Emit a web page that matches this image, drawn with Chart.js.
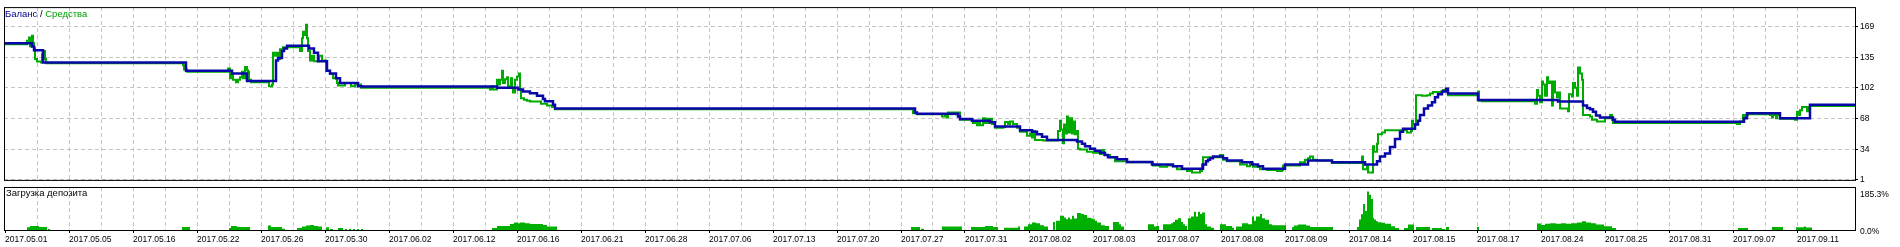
<!DOCTYPE html>
<html>
<head>
<meta charset="utf-8">
<script src="https://cdn.jsdelivr.net/npm/chart.js@4.4.1/dist/chart.umd.min.js"></script>
<style>
  html, body { margin: 0; padding: 0; background: #ffffff; }
  #wrap { position: relative; width: 1900px; height: 247px; overflow: hidden; background: #fff; }
  canvas { position: absolute; left: 0; }
</style>
</head>
<body>
<div id="wrap">
  <canvas id="mainChart" width="1900" height="187" style="top:0"></canvas>
  <canvas id="loadChart" width="1900" height="61" style="top:186px"></canvas>
</div>
<script>
// ---------- DATA ----------
const dateLabels = ['2017.05.01','2017.05.05','2017.05.16','2017.05.22','2017.05.26','2017.05.30','2017.06.02','2017.06.12','2017.06.16','2017.06.21','2017.06.28','2017.07.06','2017.07.13','2017.07.20','2017.07.27','2017.07.31','2017.08.02','2017.08.03','2017.08.07','2017.08.08','2017.08.09','2017.08.14','2017.08.15','2017.08.17','2017.08.24','2017.08.25','2017.08.31','2017.09.07','2017.09.11'];
const dealsPerLabel = 64;          // deal index step between two date labels
const lastDeal = 1850;             // last deal index on the axis

const yTickValues = [1, 34, 68, 102, 135, 169];
const yTickLabels = ['1', '34', '68', '102', '135', '169'];
const loadMaxPct = 185.3;

// Balance: deal index -> value (stepped)
const balanceIdx = [0,27,29,38,181,227,242,271,273,277,279,282,304,309,313,322,325,331,335,353,357,492,513,518,525,532,538,540,548,550,910,912,953,955,967,985,990,1015,1027,1032,1037,1042,1072,1077,1080,1085,1090,1095,1100,1103,1112,1122,1147,1168,1177,1198,1201,1203,1205,1208,1218,1222,1237,1247,1253,1258,1280,1303,1327,1360,1372,1375,1380,1385,1390,1395,1398,1410,1413,1415,1419,1423,1427,1430,1433,1437,1441,1443,1473,1553,1578,1582,1585,1588,1591,1595,1608,1610,1739,1742,1775,1805,1850];
const balanceVal = [150.4,147,142.8,129.4,120.3,117.5,109.2,131.5,134.4,142,144.8,147.6,144.8,140.2,130.8,120.3,117.5,112.3,107,103.5,103.2,101.8,100,97.6,95.8,93,89.5,87.1,83.2,79,74.8,73.4,70.3,67.5,65.7,64,59.4,55.2,53.8,51,48.2,44.7,43,40.5,37.7,35.2,32.8,30.7,28.3,25.8,23.7,20.5,17.8,16,13.2,17.8,21.3,23,24.7,26.5,24.7,22.3,20.2,17.8,16,13.2,17.8,22.3,20.2,17.8,21.3,26.5,30,37,45.7,53.8,57,61.5,65.7,72,79,82.5,86,91.3,94.8,97.6,100.8,95.5,88.5,86.7,82.5,79.7,78.3,75.5,71.4,69.3,66.7,64.6,68.5,73.8,68.5,83.2,83.2];

// Equity: deal index -> value (stepped)
const equityIdx = [0,22,24,25,27,28,29,30,32,36,37,38,40,41,178,179,182,223,225,227,228,231,233,235,237,238,240,242,243,244,246,264,267,268,270,272,274,275,278,295,297,298,300,301,302,303,305,307,309,314,317,321,325,328,332,333,340,346,350,352,356,485,487,488,492,493,495,497,498,500,502,503,506,507,508,510,512,514,515,516,519,522,525,536,542,547,550,908,912,937,940,942,943,946,948,951,953,955,968,972,973,975,978,980,982,983,985,987,990,998,1000,1003,1005,1008,1012,1015,1022,1025,1027,1028,1030,1038,1053,1055,1056,1058,1059,1060,1062,1063,1065,1067,1068,1070,1072,1073,1075,1082,1088,1095,1097,1099,1105,1110,1122,1148,1155,1162,1168,1172,1182,1187,1195,1197,1198,1215,1218,1222,1235,1242,1245,1248,1255,1262,1272,1277,1278,1295,1298,1300,1303,1305,1308,1312,1327,1357,1358,1362,1363,1368,1369,1372,1373,1377,1380,1402,1406,1407,1408,1411,1417,1422,1425,1428,1438,1442,1443,1473,1474,1477,1530,1532,1533,1535,1537,1538,1540,1542,1543,1545,1547,1548,1550,1552,1553,1555,1563,1564,1567,1568,1570,1572,1573,1575,1577,1578,1585,1587,1592,1600,1605,1607,1608,1732,1735,1738,1739,1740,1743,1765,1767,1768,1771,1772,1775,1790,1792,1793,1795,1797,1802,1803,1805,1850];
const equityVal = [149.4,153.2,156.7,147.3,158.8,150.7,145.5,133.3,130.5,129.4,138.5,142,133.3,128.7,126.3,121.7,119.2,122.8,112.3,115.8,110.5,107.7,110.5,113.3,119.2,112.3,124.5,121,119.2,110.5,107.7,103.5,105.3,140.2,136.8,140.2,133.3,143.8,146.2,142,156,163,159.6,170.6,156,142,131.5,136.8,130.8,136.8,131.5,120.3,116.8,112.3,107,104.2,107,103.5,107,105.3,101.8,100,103.5,100,110.5,105.3,110.5,120.3,107,111.2,113.3,103.5,112.3,101.8,96.5,110.5,114,117.5,100,90.2,88.8,87.7,86.7,84.3,82.5,80.8,78.3,73.8,72.7,70.3,72,69.3,74.8,72.7,74.8,72.7,74.8,66.7,63.3,60.8,65,60.8,68.5,63.3,67.8,63.3,67.8,62.2,58,58.7,64.3,62.2,65,62.2,58,53.8,49.3,51.7,47.5,54.5,44.7,44,54.5,65.7,56.2,41.2,61.5,51.7,70.3,52.8,68.5,51.7,65,51,54.5,35.2,34.2,31.8,30.7,29.3,33.6,28.3,25.8,21.3,20.2,16.7,15.3,16.7,16,12.6,10.8,9,10.8,17.8,25.8,28.3,23,21.3,17.8,16,19.5,15.3,12.6,11.8,10.8,11.8,16.7,20.2,18.9,23,24.7,26.5,23,22.3,19.5,26.5,12.6,16,9,37.7,31.8,40.5,51,52.8,55.2,52.8,54.5,65.7,61.5,93.7,93,93.7,95.5,97.2,99.3,100,93.7,97.8,87.7,87.1,84.3,99.3,93,86,108.7,105.3,93,113.3,107,108.7,82.5,108.7,96.5,91.3,96.5,79,76.2,94.8,92.3,107,101.8,93,123.9,117.5,110.5,72,70.3,66.7,65,68.5,72,66.7,63.3,62.2,65,72,68.5,72,72.7,72,69.3,72,68.5,72,67.8,66.7,75.5,72,77.2,80.8,76.2,80.8,81.9,81.9];

// Deposit load %: deal index -> value (stepped)
const loadIdx = [22,25,34,42,43,45,177,185,224,226,232,245,263,266,277,280,292,297,301,305,309,313,317,321,324,325,328,333,338,340,342,344,346,348,350,352,354,356,358,487,492,505,509,513,515,520,525,538,542,552,906,915,916,919,937,957,966,980,988,993,999,1013,1015,1019,1023,1027,1031,1035,1039,1043,1048,1050,1051,1055,1059,1061,1063,1065,1067,1069,1072,1076,1079,1082,1086,1088,1090,1092,1096,1100,1104,1108,1114,1116,1119,1143,1149,1151,1154,1158,1166,1168,1170,1173,1176,1178,1180,1182,1183,1186,1189,1191,1193,1195,1197,1200,1202,1206,1209,1215,1221,1227,1229,1231,1237,1243,1247,1249,1251,1255,1257,1260,1264,1267,1281,1287,1289,1293,1301,1305,1328,1352,1354,1356,1358,1360,1362,1364,1366,1368,1369,1371,1373,1376,1380,1386,1390,1394,1396,1399,1403,1409,1411,1425,1427,1437,1440,1441,1444,1472,1474,1532,1536,1540,1545,1551,1556,1561,1566,1572,1577,1581,1586,1591,1599,1607,1611,1733,1743,1767,1778,1791,1799,1801,1807];
const loadVal = [11.7,17.5,13,0,4.4,0,13,0,8.8,17.5,13,0,19,13,5.8,0,8.8,14.6,19,21.9,17.5,14.6,0,11.7,0,4.4,0,8.8,0,4.4,0,4.4,0,4.4,0,4.4,0,4.4,0,8.8,17.5,26,32,29,32,29,26,22,14.6,0,13.1,0,5.8,0,14.6,0,13.1,17.5,13.1,0,10.2,14.6,0,14.6,24.8,32,29.2,20.4,14.6,0,35,0,39.4,61.3,54,46.7,54,46.7,61.3,49.6,73,68.6,64.2,52.5,49.6,46.7,39.4,32,20.4,17.5,0,35,24.8,14.6,0,24.8,14.6,17.5,0,24.8,29,35,43.8,51,35,24.8,17.5,0,51,58.4,78.8,58.4,78.8,68.6,75.9,24.8,14.6,10.2,0,24.8,17.5,10.2,0,14.6,29.2,24.8,58.4,39.4,58.4,68.6,51,43.8,24.8,20.4,0,13.2,19,23.5,19,13.2,0,13.2,45.6,67.6,111.7,82.3,166,151.4,133.8,53,45.6,38.2,33.8,30.9,26.5,16.2,8.8,1.5,0,8.8,23.5,0,13.2,0,8.8,4.4,0,13.2,0,13.2,0,28,22,26.5,29.4,26.5,29.4,26.5,29.4,32.3,38.2,32.3,29.4,23.5,16.2,8.8,0,8.8,0,13.2,0,11.8,14.7,10.3,0];

// ---------- helpers ----------
const zip = (xs, ys) => xs.map((x, i) => ({ x: x, y: ys[i] }));
const xTickValues = [];
for (let v = 0; v <= lastDeal - dealsPerLabel / 2; v += dealsPerLabel / 2) xTickValues.push(v);
const isLabelTick = (v) => v % dealsPerLabel === 0;

const BLUE = '#0808a8';
const GREEN = '#00aa00';
const GRID = '#c4c4c4';
const NUM_FONT = { family: '"Liberation Sans", Arial, sans-serif', size: 8.5 };
const TXT_FONT = '9.5px "Liberation Sans", Arial, sans-serif';

const framePlugin = {
  id: 'frame',
  afterDraw(chart) {
    const a = chart.chartArea, ctx = chart.ctx;
    ctx.save();
    ctx.strokeStyle = '#000';
    ctx.lineWidth = 1;
    ctx.strokeRect(a.left + 0.5, a.top + 0.5, a.right - a.left, a.bottom - a.top);
    ctx.restore();
  }
};
const whiteBg = {
  id: 'whiteBg',
  beforeDraw(chart) {
    const ctx = chart.ctx;
    ctx.save(); ctx.fillStyle = '#fff'; ctx.fillRect(0, 0, chart.width, chart.height); ctx.restore();
  }
};

const xScaleBase = {
  type: 'linear',
  min: -1,
  max: lastDeal,
  afterBuildTicks: (s) => { s.ticks = xTickValues.map(v => ({ value: v })); },
  grid: {
    color: (c) => (c.tick && c.tick.value === 0) ? 'rgba(0,0,0,0)' : GRID,
    lineWidth: 1,
    tickColor: (c) => (c.tick && isLabelTick(c.tick.value)) ? '#000' : 'rgba(0,0,0,0)',
    tickBorderDash: [],
    tickLength: 3
  },
  border: { display: false, dash: [4, 3] }
};

// ---------- main chart ----------
new Chart(document.getElementById('mainChart'), {
  type: 'line',
  data: {
    datasets: [
      { label: 'Баланс', data: zip(balanceIdx, balanceVal), borderColor: BLUE, borderWidth: 2.5, stepped: true, pointRadius: 0, fill: false },
      { label: 'Средства', data: zip(equityIdx, equityVal), borderColor: GREEN, borderWidth: 2, stepped: true, pointRadius: 0, fill: false }
    ]
  },
  options: {
    responsive: false, animation: false, devicePixelRatio: 1,
    layout: { padding: { left: 4, top: 4, right: 0, bottom: 3 } },
    plugins: { legend: { display: false }, tooltip: { enabled: false } },
    scales: {
      x: Object.assign({}, xScaleBase, {
        ticks: { display: false },
        grid: Object.assign({}, xScaleBase.grid, { drawTicks: false }),
        afterFit: (s) => { s.height = 0; }
      }),
      y: {
        type: 'linear', position: 'right', min: 1, max: 190,
        afterBuildTicks: (s) => { s.ticks = yTickValues.map(v => ({ value: v })); },
        afterFit: (s) => { s.width = 45; },
        ticks: {
          callback: (v) => { const i = yTickValues.indexOf(v); return i >= 0 ? yTickLabels[i] : ''; },
          font: NUM_FONT, color: '#000', padding: 2
        },
        grid: { color: GRID, lineWidth: 1, tickColor: '#000', tickBorderDash: [], tickLength: 3 },
        border: { display: false, dash: [4, 3] }
      }
    }
  },
  plugins: [whiteBg, framePlugin, {
    id: 'legendText',
    afterDraw(chart) {
      const ctx = chart.ctx;
      ctx.save();
      ctx.font = TXT_FONT;
      ctx.textBaseline = 'alphabetic';
      let x = 5; const y = 16.5;
      ctx.fillStyle = '#000090'; ctx.fillText('Баланс', x, y); x += ctx.measureText('Баланс ').width;
      ctx.fillStyle = '#000'; ctx.fillText('/', x, y); x += ctx.measureText('/ ').width;
      ctx.fillStyle = '#00a000'; ctx.fillText('Средства', x, y);
      ctx.restore();
    }
  }]
});

// ---------- deposit load chart ----------
new Chart(document.getElementById('loadChart'), {
  type: 'line',
  data: {
    datasets: [
      { label: 'Загрузка депозита', data: zip(loadIdx, loadVal), stepped: true, pointRadius: 0,
        borderColor: 'rgba(0,0,0,0)', borderWidth: 1, backgroundColor: '#00b000', fill: 'origin' }
    ]
  },
  options: {
    responsive: false, animation: false, devicePixelRatio: 1,
    layout: { padding: { left: 4, top: 1, right: 45, bottom: 0 } },
    plugins: { legend: { display: false }, tooltip: { enabled: false } },
    scales: {
      x: Object.assign({}, xScaleBase, {
        afterFit: (s) => { s.height = 17; },
        ticks: {
          autoSkip: false, maxRotation: 0, minRotation: 0, align: 'start', padding: 2,
          font: NUM_FONT, color: '#000',
          callback: (v) => isLabelTick(v) ? dateLabels[v / dealsPerLabel] : ''
        }
      }),
      y: { type: 'linear', display: false, min: 0, max: loadMaxPct }
    }
  },
  plugins: [whiteBg, framePlugin, {
    id: 'loadText',
    afterDraw(chart) {
      const ctx = chart.ctx, a = chart.chartArea;
      ctx.save();
      ctx.font = TXT_FONT; ctx.fillStyle = '#000'; ctx.textBaseline = 'alphabetic';
      ctx.fillText('Загрузка депозита', 6, 9.5);
      ctx.font = NUM_FONT.size + 'px ' + NUM_FONT.family;
      ctx.fillText(loadMaxPct.toFixed(1) + '%', a.right + 5, 10.8);
      ctx.fillText('0.0%', a.right + 5, 47.5);
      ctx.restore();
    }
  }]
});
</script>
</body>
</html>
